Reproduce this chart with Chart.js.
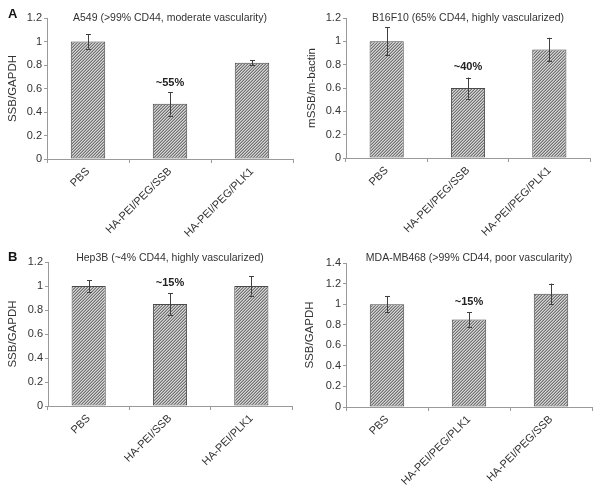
<!DOCTYPE html>
<html>
<head>
<meta charset="utf-8">
<script src="https://cdn.jsdelivr.net/npm/chart.js@4.4.1/dist/chart.umd.min.js"></script>
<style>
  html, body { margin: 0; padding: 0; background: #fff; }
  #wrap { position: relative; width: 600px; height: 487px; overflow: hidden; }
  canvas { position: absolute; }
</style>
</head>
<body>
<div id="wrap">
  <canvas id="cA" width="300" height="240" style="left:0;top:0"></canvas>
  <canvas id="cB" width="300" height="240" style="left:300px;top:0"></canvas>
  <canvas id="cC" width="300" height="247" style="left:0;top:240px"></canvas>
  <canvas id="cD" width="300" height="247" style="left:300px;top:240px"></canvas>
</div>
<script>
// ---------------- DATA ----------------
const titleA = 'A549 (>99% CD44, moderate vascularity)';
const yTitleA = 'SSB/GAPDH';
const categoriesA = ['PBS', 'HA-PEI/PEG/SSB', 'HA-PEI/PEG/PLK1'];
const valuesA = [1.00, 0.47, 0.82];
const errorsA = [0.06, 0.10, 0.02];
const noteA = '~55%';
const noteIndexA = 1;
const noteValueA = 0.65;
const yMaxA = 1.2;

const titleB = 'B16F10 (65% CD44, highly vascularized)';
const yTitleB = 'mSSB/m-bactin';
const categoriesB = ['PBS', 'HA-PEI/PEG/SSB', 'HA-PEI/PEG/PLK1'];
const valuesB = [1.00, 0.60, 0.93];
const errorsB = [0.12, 0.09, 0.10];
const noteB = '~40%';
const noteIndexB = 1;
const noteValueB = 0.78;
const yMaxB = 1.2;

const titleC = 'Hep3B (~4% CD44, highly vascularized)';
const yTitleC = 'SSB/GAPDH';
const categoriesC = ['PBS', 'HA-PEI/SSB', 'HA-PEI/PLK1'];
const valuesC = [1.00, 0.85, 1.00];
const errorsC = [0.05, 0.09, 0.08];
const noteC = '~15%';
const noteIndexC = 1;
const noteValueC = 1.025;
const yMaxC = 1.2;

const titleD = 'MDA-MB468 (>99% CD44, poor vascularity)';
const yTitleD = 'SSB/GAPDH';
const categoriesD = ['PBS', 'HA-PEI/PEG/PLK1', 'HA-PEI/PEG/SSB'];
const valuesD = [1.00, 0.85, 1.10];
const errorsD = [0.08, 0.07, 0.10];
const noteD = '~15%';
const noteIndexD = 1;
const noteValueD = 1.02;
const yMaxD = 1.4;

const yStep = 0.2;
// --------------------------------------

const FONT = 'Arial, "Liberation Sans", Helvetica, sans-serif';
const TEXT = '#333333';
const AXIS = '#9a9a9a';

function makeHatch() {
  const c = document.createElement('canvas');
  c.width = 3; c.height = 3;
  const g = c.getContext('2d');
  g.fillStyle = '#d6d6d6';
  g.fillRect(0, 0, 3, 3);
  g.fillStyle = '#727272';
  g.fillRect(0, 2, 1, 1);
  g.fillRect(1, 1, 1, 1);
  g.fillRect(2, 0, 1, 1);
  g.fillStyle = '#a8a8a8';
  g.fillRect(0, 1, 1, 1);
  g.fillRect(1, 0, 1, 1);
  g.fillRect(2, 2, 1, 1);
  return c;
}

function makePanel(id, p) {
  const canvas = document.getElementById(id);
  const ctx = canvas.getContext('2d');
  const hatch = ctx.createPattern(makeHatch(), 'repeat');
  const W = canvas.width, H = canvas.height;

  const extras = {
    id: 'extras',
    afterDatasetsDraw(chart) {
      const c = chart.ctx;
      const meta = chart.getDatasetMeta(0);
      const ys = chart.scales.y;
      c.save();
      c.strokeStyle = '#404040';
      c.lineWidth = 1;
      meta.data.forEach((bar, i) => {
        const v = p.values[i], e = p.errors[i];
        const x = Math.round(bar.x) + 0.5;
        const yt = ys.getPixelForValue(v + e);
        const yb = ys.getPixelForValue(v - e);
        c.beginPath();
        c.moveTo(x, yt); c.lineTo(x, yb);
        c.moveTo(x - 2.5, Math.round(yt) + 0.5); c.lineTo(x + 2.5, Math.round(yt) + 0.5);
        c.moveTo(x - 2.5, Math.round(yb) + 0.5); c.lineTo(x + 2.5, Math.round(yb) + 0.5);
        c.stroke();
      });
      // annotation
      const nb = meta.data[p.noteIndex];
      c.fillStyle = '#222';
      c.font = 'bold 11px ' + FONT;
      c.textAlign = 'center';
      c.textBaseline = 'middle';
      c.fillText(p.note, nb.x, ys.getPixelForValue(p.noteValue));
      // title
      const ca = chart.chartArea;
      c.fillStyle = TEXT;
      c.font = '10.5px ' + FONT;
      c.fillText(p.title, (ca.left + ca.right) / 2, p.titleY);
      // panel letter
      if (p.letter) {
        c.fillStyle = '#111';
        c.font = 'bold 13px ' + FONT;
        c.textAlign = 'left';
        c.fillText(p.letter, p.letterX, p.letterY);
      }
      c.restore();
    }
  };

  return new Chart(ctx, {
    type: 'bar',
    data: {
      labels: p.categories,
      datasets: [{
        data: p.values,
        backgroundColor: hatch,
        borderColor: '#4a4a4a',
        borderWidth: 1,
        borderSkipped: false,
        categoryPercentage: 1.0,
        barPercentage: 0.42
      }]
    },
    options: {
      responsive: false,
      devicePixelRatio: 1,
      animation: false,
      events: [],
      layout: { padding: { left: 0, top: p.area.top, right: W - p.area.right, bottom: 0 } },
      plugins: { legend: { display: false }, tooltip: { enabled: false }, title: { display: false } },
      scales: {
        x: {
          afterFit(s) { s.height = H - p.area.bottom; },
          grid: { display: true, drawOnChartArea: false, drawTicks: true, tickLength: 4, color: AXIS, offset: true },
          border: { display: true, color: AXIS },
          ticks: {
            autoSkip: false, minRotation: 45, maxRotation: 45, padding: 2,
            color: TEXT, font: { family: FONT, size: 11 }
          }
        },
        y: {
          min: 0, max: p.yMax,
          afterFit(s) { s.width = p.area.left; },
          grid: { display: true, drawOnChartArea: false, drawTicks: true, tickLength: 3, color: AXIS },
          border: { display: true, color: AXIS },
          ticks: {
            stepSize: yStep, padding: 2, color: TEXT,
            font: { family: FONT, size: 11 },
            callback: v => String(+v.toFixed(1))
          },
          title: {
            display: true, text: p.yTitle, color: TEXT,
            font: { family: FONT, size: 11.5 },
            padding: { top: p.yTitlePad, bottom: 0 }
          }
        }
      }
    },
    plugins: [extras]
  });
}

makePanel('cA', {
  categories: categoriesA, values: valuesA, errors: errorsA,
  note: noteA, noteIndex: noteIndexA, noteValue: noteValueA, yMax: yMaxA,
  title: titleA, yTitle: yTitleA, titleY: 18, letter: 'A', letterX: 8, letterY: 14,
  area: { left: 47, right: 293, top: 18, bottom: 159 }, yTitlePad: 6
});
makePanel('cB', {
  categories: categoriesB, values: valuesB, errors: errorsB,
  note: noteB, noteIndex: noteIndexB, noteValue: noteValueB, yMax: yMaxB,
  title: titleB, yTitle: yTitleB, titleY: 18,
  area: { left: 46, right: 290, top: 18, bottom: 158 }, yTitlePad: 5
});
makePanel('cC', {
  categories: categoriesC, values: valuesC, errors: errorsC,
  note: noteC, noteIndex: noteIndexC, noteValue: noteValueC, yMax: yMaxC,
  title: titleC, yTitle: yTitleC, titleY: 18, letter: 'B', letterX: 8, letterY: 17,
  area: { left: 48, right: 292, top: 22, bottom: 166 }, yTitlePad: 6
});
makePanel('cD', {
  categories: categoriesD, values: valuesD, errors: errorsD,
  note: noteD, noteIndex: noteIndexD, noteValue: noteValueD, yMax: yMaxD,
  title: titleD, yTitle: yTitleD, titleY: 18,
  area: { left: 46, right: 292, top: 23, bottom: 167 }, yTitlePad: 3
});
</script>
</body>
</html>
